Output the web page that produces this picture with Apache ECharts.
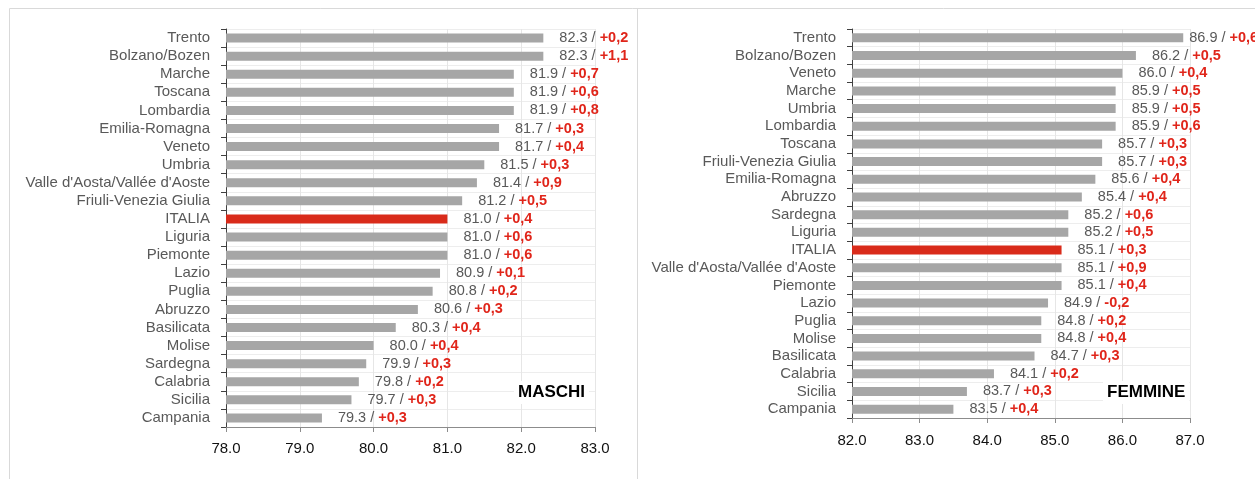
<!DOCTYPE html>
<html><head><meta charset="utf-8">
<script src="https://cdn.jsdelivr.net/npm/echarts@6/dist/echarts.min.js"></script>
<style>html,body{margin:0;padding:0;background:#fff}#c{width:1255px;height:479px}</style>
</head><body><div id="c"></div>
<script>
const maschiCats = ["Trento","Bolzano/Bozen","Marche","Toscana","Lombardia","Emilia-Romagna","Veneto","Umbria","Valle d'Aosta/Vallée d'Aoste","Friuli-Venezia Giulia","ITALIA","Liguria","Piemonte","Lazio","Puglia","Abruzzo","Basilicata","Molise","Sardegna","Calabria","Sicilia","Campania"];
const maschiValues = [82.3,82.3,81.9,81.9,81.9,81.7,81.7,81.5,81.4,81.2,81.0,81.0,81.0,80.9,80.8,80.6,80.3,80.0,79.9,79.8,79.7,79.3];
const maschiDelta = ["+0,2","+1,1","+0,7","+0,6","+0,8","+0,3","+0,4","+0,3","+0,9","+0,5","+0,4","+0,6","+0,6","+0,1","+0,2","+0,3","+0,4","+0,4","+0,3","+0,2","+0,3","+0,3"];

const femmineCats = ["Trento","Bolzano/Bozen","Veneto","Marche","Umbria","Lombardia","Toscana","Friuli-Venezia Giulia","Emilia-Romagna","Abruzzo","Sardegna","Liguria","ITALIA","Valle d'Aosta/Vallée d'Aoste","Piemonte","Lazio","Puglia","Molise","Basilicata","Calabria","Sicilia","Campania"];
const femmineValues = [86.9,86.2,86.0,85.9,85.9,85.9,85.7,85.7,85.6,85.4,85.2,85.2,85.1,85.1,85.1,84.9,84.8,84.8,84.7,84.1,83.7,83.5];
const femmineDelta = ["+0,6","+0,5","+0,4","+0,5","+0,5","+0,6","+0,3","+0,3","+0,4","+0,4","+0,6","+0,5","+0,3","+0,9","+0,4","-0,2","+0,2","+0,4","+0,3","+0,2","+0,3","+0,4"];

const maschiAxis = {min:78, max:83, interval:1};
const femmineAxis = {min:82, max:87, interval:1};

const FONT = "'Liberation Sans',Arial,sans-serif";
const GRAY = '#A6A6A6', RED = '#D92B1A';

function buildData(cats, vals, deltas){
  return vals.map((v,i)=>{
    const d = {value:v, label:{formatter: v.toFixed(1)+' / {b|'+deltas[i]+'}'}};
    if (cats[i]==='ITALIA') d.itemStyle = {color:RED};
    return d;
  });
}

const chart = echarts.init(document.getElementById('c'), null, {renderer:'canvas'});

function xAxis(gi, ax, margin){
  return {type:'value', gridIndex:gi, min:ax.min, max:ax.max, interval:ax.interval,
    axisLine:{show:true, lineStyle:{color:'#8C8C8C', width:1}},
    axisTick:{show:true, length:5, lineStyle:{color:'#8C8C8C'}},
    axisLabel:{formatter:v=>v.toFixed(1), fontFamily:FONT, fontSize:15, color:'#111', margin:margin},
    splitLine:{show:true, lineStyle:{color:'#E6E6E6'}}};
}
function yAxis(gi, cats){
  return {type:'category', gridIndex:gi, data:cats, inverse:true,
    axisLine:{show:true, lineStyle:{color:'#404040'}},
    axisTick:{show:true, length:5, interval:0, lineStyle:{color:'#404040'}},
    axisLabel:{interval:0, fontFamily:FONT, fontSize:15, color:'#595959', margin:16},
    splitLine:{show:true, interval:0, lineStyle:{color:'#EDEDED'}}};
}
function series(gi, cats, vals, deltas, opts){
  return {type:'bar', xAxisIndex:gi, yAxisIndex:gi, barWidth:9, silent:true,
    itemStyle:{color:GRAY},
    data: buildData(cats, vals, deltas),
    label:{show:true, position:'right', distance:opts.dist, fontFamily:FONT, fontSize:14.5, color:'#595959',
      rich:{b:{fontFamily:FONT, fontSize:14.5, fontWeight:'bold', color:'#E0251A'}}},
    animation:false};
}

const fem = series(1, femmineCats, femmineValues, femmineDelta, {dist:16});
// top label squeezed toward the bar edge, as in the reference
fem.data[0].label.distance = 6;

chart.setOption({
  animation:false,
  grid:[{left:226, top:29, width:369, height:398, containLabel:false},
        {left:852, top:29, width:338, height:389, containLabel:false}],
  xAxis:[xAxis(0, maschiAxis, 14), xAxis(1, femmineAxis, 15)],
  yAxis:[yAxis(0, maschiCats), yAxis(1, femmineCats)],
  series:[series(0, maschiCats, maschiValues, maschiDelta, {dist:16}), fem],
  graphic:[
    {type:'line', shape:{x1:9.5,y1:8.5,x2:1255,y2:8.5}, style:{stroke:'#D9D9D9', lineWidth:1}},
    {type:'line', shape:{x1:9.5,y1:8.5,x2:9.5,y2:479}, style:{stroke:'#D9D9D9', lineWidth:1}},
    {type:'line', shape:{x1:637.5,y1:8.5,x2:637.5,y2:479}, style:{stroke:'#D9D9D9', lineWidth:1}},
    {type:'text', left:514, top:381, z:100, style:{text:'MASCHI', font:"bold 17px "+FONT, fill:'#000', backgroundColor:'#fff', padding:[3,4,3,4]}},
    {type:'text', left:1103, top:381, z:100, style:{text:'FEMMINE', font:"bold 17px "+FONT, fill:'#000', backgroundColor:'#fff', padding:[3,4,3,4]}}
  ]
});
</script></body></html>
